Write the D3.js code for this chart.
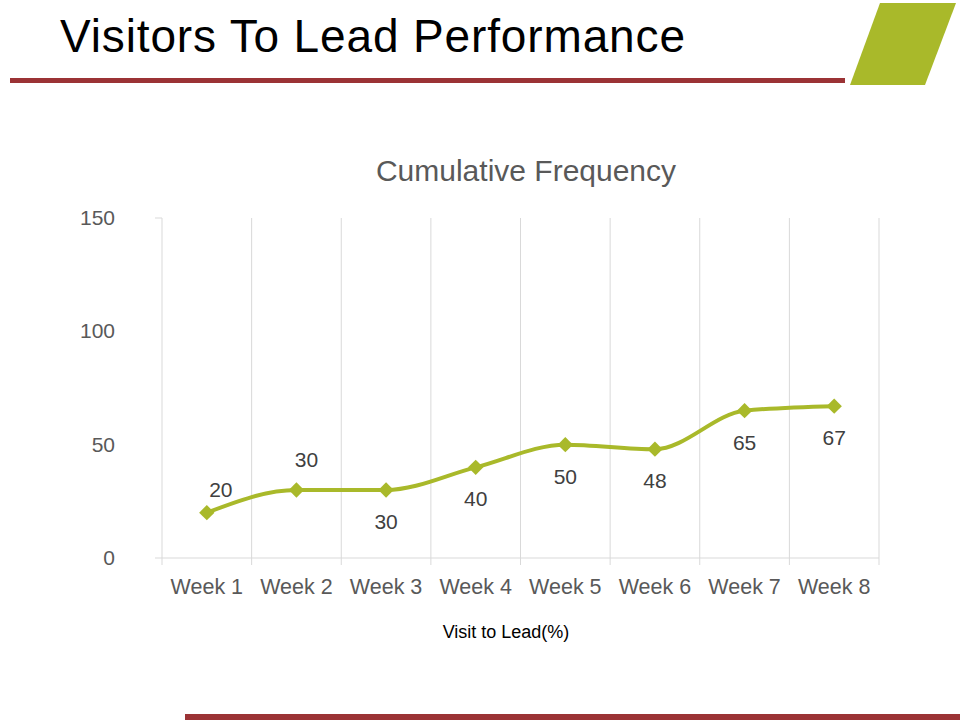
<!DOCTYPE html>
<html><head><meta charset="utf-8">
<script src="https://cdn.jsdelivr.net/npm/d3@7"></script>
<style>body{margin:0;background:#fff}svg{font-family:Arial,"Liberation Sans",sans-serif}</style>
</head><body>
<svg id="chart" width="960" height="720"></svg>
<script>
const weeks = ["Week 1","Week 2","Week 3","Week 4","Week 5","Week 6","Week 7","Week 8"];
const values = [20, 30, 30, 40, 50, 48, 65, 67];
const labelAbove = [true, true, false, false, false, false, false, false];
const yTicks = [0, 50, 100, 150];

const svg = d3.select("#chart");
const green = "#a9b92a";

// slide decorations
svg.append("text").attr("x", 60).attr("y", 52).attr("font-size", 46).attr("fill", "#000")
    .attr("textLength", 625).text("Visitors To Lead Performance");
svg.append("rect").attr("x", 10).attr("y", 78).attr("width", 835).attr("height", 5).attr("fill", "#9b3335");
svg.append("rect").attr("x", 185).attr("y", 714).attr("width", 775).attr("height", 6).attr("fill", "#9b3335");
svg.append("polygon").attr("points", "885,20 945,20 920,70 860,70").attr("fill", "#dfe58f");
svg.append("polygon").attr("points", "880,3 956,3 925,85 850,85").attr("fill", green);

// chart
const x = d3.scaleBand().domain(weeks).range([162, 879]);
const y = d3.scaleLinear().domain([0, 150]).range([558, 218]);

svg.append("text").attr("x", 526).attr("y", 181).attr("text-anchor", "middle")
    .attr("font-size", 30).attr("fill", "#595959").text("Cumulative Frequency");

const edges = weeks.map(w => x(w)).concat([x.range()[1]]);
svg.selectAll(".vg").data(edges).join("line")
    .attr("x1", d => d).attr("x2", d => d).attr("y1", 218).attr("y2", 565)
    .attr("stroke", "#d9d9d9");
svg.append("line").attr("x1", 155).attr("x2", 879).attr("y1", 558).attr("y2", 558).attr("stroke", "#d9d9d9");
svg.append("line").attr("x1", 155).attr("x2", 162).attr("y1", 218).attr("y2", 218).attr("stroke", "#d9d9d9");

svg.selectAll(".yl").data(yTicks).join("text")
    .attr("x", 115).attr("y", d => y(d) + 7).attr("text-anchor", "end")
    .attr("font-size", 21).attr("fill", "#595959").text(d => d);

svg.selectAll(".xl").data(weeks).join("text")
    .attr("x", d => x(d) + x.bandwidth() / 2).attr("y", 594).attr("text-anchor", "middle")
    .attr("font-size", 21.5).attr("fill", "#595959").text(d => d);

svg.append("text").attr("x", 506).attr("y", 638).attr("text-anchor", "middle")
    .attr("font-size", 18).attr("fill", "#000").text("Visit to Lead(%)");

const cx = (d, i) => x(weeks[i]) + x.bandwidth() / 2;
const line = d3.line().x(cx).y(d => y(d)).curve(d3.curveMonotoneX);
svg.append("path").datum(values).attr("d", line).attr("fill", "none")
    .attr("stroke", green).attr("stroke-width", 4);

svg.selectAll(".pt").data(values).join("path")
    .attr("d", d3.symbol(d3.symbolDiamond2, 150)).attr("fill", green)
    .attr("transform", (d, i) => `translate(${cx(d, i)},${y(d)})`);

svg.selectAll(".dl").data(values).join("text")
    .attr("x", (d, i) => cx(d, i) + (i === 0 ? 14 : i === 1 ? 10 : 0))
    .attr("y", (d, i) => labelAbove[i] ? y(d) - (i === 0 ? 16 : 23) : y(d) + 39)
    .attr("text-anchor", "middle").attr("font-size", 21).attr("fill", "#404040").text(d => d);
</script>
</body></html>
